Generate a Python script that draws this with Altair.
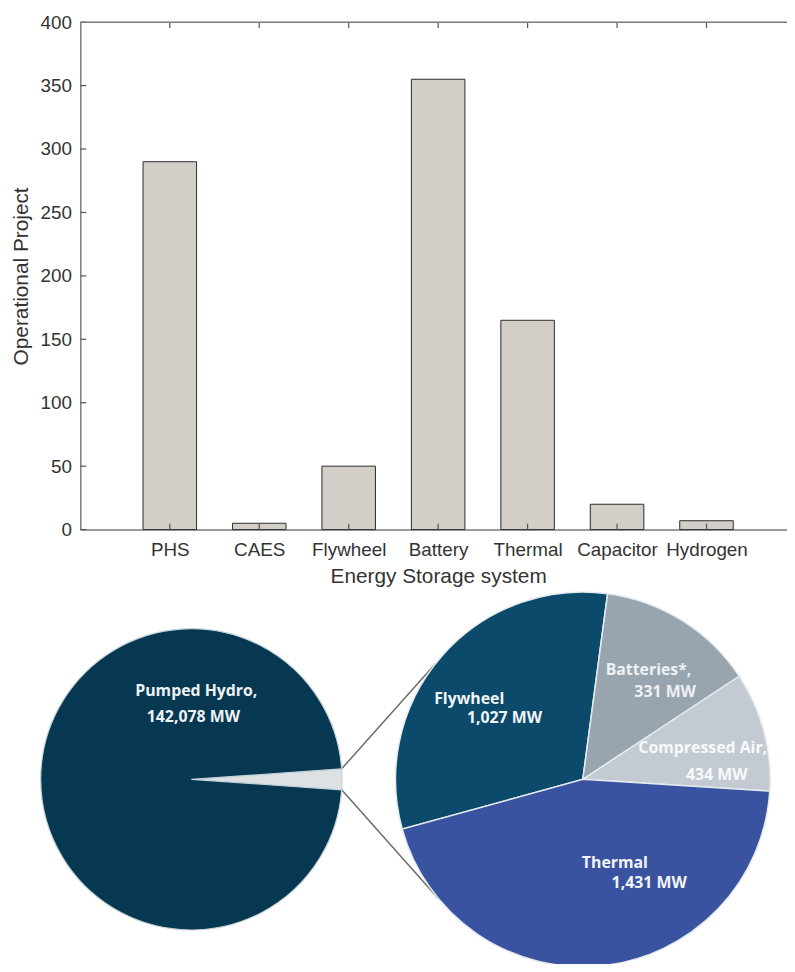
import math
import json
import altair as alt
import pandas as pd

# ---------------- data ----------------
categories = ["PHS", "CAES", "Flywheel", "Battery", "Thermal", "Capacitor", "Hydrogen"]
projects = [290, 5, 50, 355, 165, 20, 7]
y_ticks = [0, 50, 100, 150, 200, 250, 300, 350, 400]

pie1_names = ["Other storage", "Pumped Hydro"]
pie2_names = ["Flywheel", "Batteries*", "Compressed Air", "Thermal"]
pie2_mw = [1027, 331, 434, 1431]
pumped_hydro_mw = 142078
# slice sizes of the exploded pie as drawn in the picture (degrees)
pie2_share_deg = [113, 49, 37, 161]

pie1_colors = ["#dde1e4", "#063851"]
pie2_colors = ["#0b4a6a", "#98a4ae", "#c3cad1", "#3a53a0"]

# ---------------- layout constants ----------------
W, H = 713, 512
X_DOMAIN = [0, 7.9]
L_CX, L_CY, L_R = 112, 764, 152
R_CX, R_CY, R_R = 507, 764, 189
PIE1_START = 86.0
PIE2_START = 254.6
FONT = "Liberation Sans"
PFONT = "Open Sans"

bar_df = pd.DataFrame({"pos": list(range(1, len(categories) + 1)),
                       "cat": categories, "val": projects})
ytick_df = pd.DataFrame({"v": y_ticks})
one = pd.DataFrame({"k": [0]})

pie1_vals = [sum(pie2_mw), pumped_hydro_mw]
pie1_df = pd.DataFrame({"name": pie1_names, "mw": pie1_vals, "idx": [0, 1]})
pie2_df = pd.DataFrame({"name": pie2_names, "deg": pie2_share_deg, "idx": list(range(4))})

cat_js = json.dumps(categories)

bars = alt.Chart(bar_df).mark_bar(size=54, fill="#d3cfc8", stroke="#2b2b2b", strokeWidth=1).encode(
    x=alt.X("pos:Q",
            scale=alt.Scale(domain=X_DOMAIN, nice=False, zero=False, padding=0),
            axis=alt.Axis(values=list(range(1, len(categories) + 1)),
                          labelExpr=f"{cat_js}[datum.value - 1]",
                          title="Energy Storage system", grid=False, ticks=False, tickSize=0,
                          domainColor="#7a7a7a", domainWidth=1.5,
                          labelFont=FONT, labelFontSize=19, labelColor="#333333",
                          labelPadding=11, labelOverlap=False, labelFlush=False,
                          titleFont=FONT, titleFontSize=21, titleFontWeight="normal",
                          titleColor="#333333", titleX=361, titleY=47,
                          titleBaseline="middle", titleAlign="center")),
    y=alt.Y("val:Q",
            scale=alt.Scale(domain=[0, 400], nice=False, padding=0),
            axis=alt.Axis(values=y_ticks, title="Operational Project", grid=False,
                          ticks=False, tickSize=0,
                          domainColor="#7a7a7a", domainWidth=1.5,
                          labelFont=FONT, labelFontSize=19, labelColor="#333333",
                          labelPadding=9,
                          titleFont=FONT, titleFontSize=21, titleFontWeight="normal",
                          titleColor="#333333", titleX=-59, titleY=H / 2,
                          titleAngle=-90, titleBaseline="middle", titleAlign="center")),
)

tick_style = dict(color="#555555", strokeWidth=1.2)
bottom_ticks = alt.Chart(bar_df).mark_rule(**tick_style).encode(
    x="pos:Q", y=alt.value(H), y2=alt.value(H - 6))
top_ticks = alt.Chart(bar_df).mark_rule(**tick_style).encode(
    x="pos:Q", y=alt.value(0), y2=alt.value(6))
left_ticks = alt.Chart(ytick_df).mark_rule(**tick_style).encode(
    y="v:Q", x=alt.value(0), x2=alt.value(6))
top_border = alt.Chart(one).mark_rule(color="#7a7a7a", strokeWidth=1.5).encode(
    y=alt.value(0), x=alt.value(0), x2=alt.value(W))

TWO_PI = 2 * math.pi
a1 = math.radians(PIE1_START)
a2 = math.radians(PIE2_START)

pie1 = alt.Chart(pie1_df).mark_arc(outerRadius=L_R, stroke="#c6d2da", strokeWidth=1.2).encode(
    x=alt.value(L_CX), y=alt.value(L_CY),
    theta=alt.Theta("mw:Q", stack=True, scale=alt.Scale(range=[a1, a1 + TWO_PI])),
    color=alt.Color("name:N", scale=alt.Scale(domain=pie1_names, range=pie1_colors), legend=None),
    order=alt.Order("idx:Q"),
)
pie2 = alt.Chart(pie2_df).mark_arc(outerRadius=R_R, stroke="#e4eaee", strokeWidth=1.5).encode(
    x=alt.value(R_CX), y=alt.value(R_CY),
    theta=alt.Theta("deg:Q", stack=True, scale=alt.Scale(range=[a2, a2 + TWO_PI])),
    color=alt.Color("name:N", scale=alt.Scale(domain=pie2_names, range=pie2_colors), legend=None),
    order=alt.Order("idx:Q"),
)

# connector lines from the small wedge to the exploded pie
wedge_deg = 360.0 * pie1_vals[0] / sum(pie1_vals)
def on_circle(cx, cy, r, deg):
    t = math.radians(deg)
    return cx + r * math.sin(t), cy - r * math.cos(t)

p_up_l = on_circle(L_CX, L_CY, L_R, PIE1_START)
p_lo_l = on_circle(L_CX, L_CY, L_R, PIE1_START + wedge_deg)
p_up_r = on_circle(R_CX, R_CY, R_R, 308.3)
p_lo_r = on_circle(R_CX, R_CY, R_R, 230.6)

connectors = []
for (xa, ya), (xb, yb) in [(p_up_l, p_up_r), (p_lo_l, p_lo_r)]:
    connectors.append(
        alt.Chart(one).mark_rule(color="#6b6b6b", strokeWidth=1.5).encode(
            x=alt.value(xa), y=alt.value(ya), x2=alt.value(xb), y2=alt.value(yb)))

# labels (page coords -> plot coords)
OX, OY = 81, 18
label_lines = [
    (f"{pie1_names[1]},", 198, 693, "center", "#eef2f5"),
    (f"{pumped_hydro_mw:,} MW", 195, 719, "center", "#eef2f5"),
    (pie2_names[0], 438, 701, "left", "#f2f5f7"),
    (f"{pie2_mw[0]:,} MW", 471, 720, "left", "#f2f5f7"),
    (f"{pie2_names[1]},", 611, 672, "left", "#eef1f4"),
    (f"{pie2_mw[1]:,} MW", 640, 694, "left", "#eef1f4"),
    (f"{pie2_names[2]},", 644, 750, "left", "#f7f9fa"),
    (f"{pie2_mw[2]:,} MW", 692, 778, "left", "#f7f9fa"),
    (pie2_names[3], 587, 866, "left", "#f2f5f7"),
    (f"{pie2_mw[3]:,} MW", 617, 887, "left", "#f2f5f7"),
]
texts = []
for txt, px, py, al, col in label_lines:
    texts.append(
        alt.Chart(pd.DataFrame({"t": [txt]})).mark_text(
            font=PFONT, fontSize=16, fontWeight="bold", color=col,
            align=al, baseline="middle").encode(
            x=alt.value(px - OX), y=alt.value(py - OY), text="t:N"))

chart = alt.layer(
    bars, bottom_ticks, top_ticks, left_ticks, top_border,
    *connectors, pie1, pie2, *texts
).resolve_scale(
    theta="independent", color="independent"
).properties(
    width=W, height=H,
    autosize=alt.AutoSizeParams(type="none"),
    padding={"left": 73, "top": 10, "right": 0, "bottom": 434},
    background="white",
).configure_view(strokeWidth=0)

chart.save("out.html", embed_options={"renderer": "svg", "actions": False})
